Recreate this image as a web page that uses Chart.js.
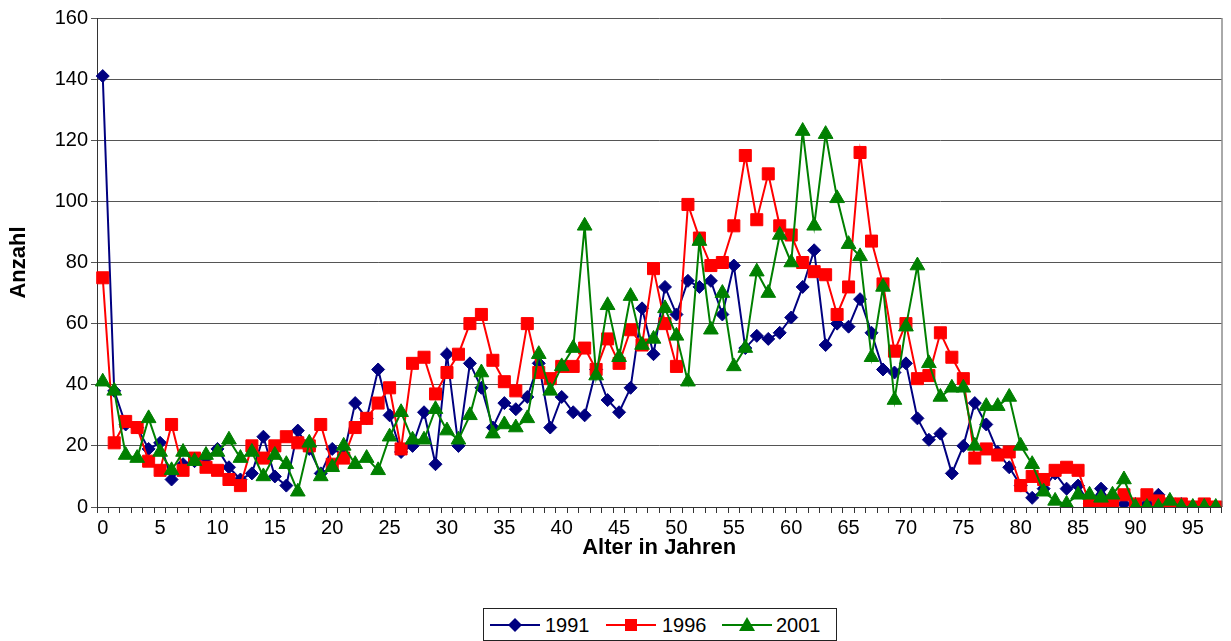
<!DOCTYPE html>
<html>
<head>
<meta charset="utf-8">
<script src="https://cdn.jsdelivr.net/npm/chart.js@4/dist/chart.umd.min.js"></script>
<style>
  body { margin: 0; background: #fff; }
  #wrap { position: relative; width: 1231px; height: 641px; }
  #legend {
    position: absolute; left: 483px; top: 608px; width: 354px; height: 33px;
    box-sizing: border-box; border: 1px solid #222; background: #fff;
    font-family: "Liberation Sans", Arial, sans-serif; font-size: 20px; color: #000;
  }
  .item { position: absolute; top: 3px; height: 26px; }
  .item svg { position: absolute; left: 0; top: 3px; }
  .item span { position: absolute; top: 2px; white-space: nowrap; }
</style>
</head>
<body>
<div id="wrap">
  <canvas id="myChart" width="1231" height="641"></canvas>
  <div id="legend">
    <div class="item" style="left:6px">
      <svg width="50" height="20"><line x1="0" y1="10" x2="50" y2="10" stroke="#000080" stroke-width="2"/><polygon points="25,3 32,10 25,17 18,10" fill="#000080"/></svg>
      <span style="left:55px">1991</span>
    </div>
    <div class="item" style="left:122px">
      <svg width="50" height="20"><line x1="0" y1="10" x2="50" y2="10" stroke="#ff0000" stroke-width="2"/><rect x="19" y="4" width="12" height="12" fill="#ff0000"/></svg>
      <span style="left:56px">1996</span>
    </div>
    <div class="item" style="left:238px">
      <svg width="50" height="20"><line x1="0" y1="10" x2="50" y2="10" stroke="#008000" stroke-width="2"/><polygon points="25,2 33,16 17,16" fill="#008000"/></svg>
      <span style="left:54px">2001</span>
    </div>
  </div>
</div>
<script>
var ages = [];
for (var a = 0; a <= 97; a++) ages.push(String(a));

var werte1991 = [141, 38, 27, 26, 19, 21, 9, 14, 15, 16,
  19, 13, 9, 11, 23, 10, 7, 25, 19, 11,
  19, 17, 34, 29, 45, 30, 18, 20, 31, 14,
  50, 20, 47, 39, 26, 34, 32, 36, 47, 26,
  36, 31, 30, 45, 35, 31, 39, 65, 50, 72,
  63, 74, 72, 74, 63, 79, 52, 56, 55, 57,
  62, 72, 84, 53, 60, 59, 68, 57, 45, 44,
  47, 29, 22, 24, 11, 20, 34, 27, 18, 13,
  7, 3, 6, 11, 6, 7, 1, 6, 1, 1,
  1, 1, 4, 1, 1, 0, 0, 0];

var werte1996 = [75, 21, 28, 26, 15, 12, 27, 12, 16, 13,
  12, 9, 7, 20, 16, 20, 23, 21, 20, 27,
  14, 16, 26, 29, 34, 39, 19, 47, 49, 37,
  44, 50, 60, 63, 48, 41, 38, 60, 44, 42,
  46, 46, 52, 45, 55, 47, 58, 53, 78, 60,
  46, 99, 88, 79, 80, 92, 115, 94, 109, 92,
  89, 80, 77, 76, 63, 72, 116, 87, 73, 51,
  60, 42, 43, 57, 49, 42, 16, 19, 17, 18,
  7, 10, 9, 12, 13, 12, 1, 0, 2, 4,
  1, 4, 2, 1, 1, 0, 1, 0];

var werte2001 = [41, 38, 17, 16, 29, 18, 12, 18, 15, 17,
  18, 22, 16, 18, 10, 17, 14, 5, 21, 10,
  13, 20, 14, 16, 12, 23, 31, 22, 22, 32,
  25, 22, 30, 44, 24, 27, 26, 29, 50, 38,
  46, 52, 92, 43, 66, 49, 69, 53, 55, 65,
  56, 41, 87, 58, 70, 46, 52, 77, 70, 89,
  80, 123, 92, 122, 101, 86, 82, 49, 72, 35,
  59, 79, 47, 36, 39, 39, 20, 33, 33, 36,
  20, 14, 5, 2, 1, 4, 4, 3, 4, 9,
  0, 0, 0, 2, 0, 0, 0, 0];

var schrift = "'Liberation Sans', Arial, sans-serif";

var rahmen = {
  id: 'rahmen',
  afterDraw: function(chart) {
    var c = chart.ctx, ar = chart.chartArea;
    c.save();
    c.strokeStyle = '#555';
    c.lineWidth = 1;
    c.beginPath();
    c.moveTo(ar.right + 0.5, ar.top);
    c.lineTo(ar.right + 0.5, ar.bottom);
    c.stroke();
    c.restore();
  }
};

var ctx = document.getElementById('myChart').getContext('2d');
var myChart = new Chart(ctx, {
  type: 'line',
  data: {
    labels: ages,
    datasets: [{
      label: '1991', data: werte1991, order: 2,
      borderColor: '#000080', backgroundColor: '#000080', borderWidth: 2,
      pointStyle: 'rectRot', pointRadius: 6.5, pointBorderWidth: 1, tension: 0
    }, {
      label: '1996', data: werte1996, order: 1,
      borderColor: '#ff0000', backgroundColor: '#ff0000', borderWidth: 2,
      pointStyle: 'rect', pointRadius: 8.5, pointBorderWidth: 1, tension: 0
    }, {
      label: '2001', data: werte2001, order: 0,
      borderColor: '#008000', backgroundColor: '#008000', borderWidth: 2,
      pointStyle: 'triangle', pointRadius: 8.5, pointBorderWidth: 1, tension: 0
    }]
  },
  options: {
    responsive: false,
    animation: false,
    layout: { padding: { top: 18, right: 6, bottom: 74, left: 0 } },
    plugins: { legend: { display: false }, tooltip: { enabled: false } },
    scales: {
      x: {
        offset: true,
        grid: { display: true, drawOnChartArea: false, offset: true, tickLength: 6, color: '#333' },
        border: { display: true, color: '#333', width: 1 },
        ticks: {
          autoSkip: false, maxRotation: 0, padding: 3, color: '#000',
          font: { family: schrift, size: 20 },
          callback: function(v, i) { return i % 5 === 0 ? this.getLabelForValue(v) : ''; }
        },
        title: {
          display: true, text: 'Alter in Jahren', color: '#000',
          font: { family: schrift, size: 22, weight: 'bold' },
          padding: { top: 0, bottom: 6 }
        },
        afterFit: function(s) { s.height = 60; }
      },
      y: {
        min: 0, max: 160,
        grid: { color: '#555', tickLength: 6 },
        border: { display: true, color: '#333', width: 1 },
        ticks: {
          stepSize: 20, padding: 3, color: '#000',
          font: { family: schrift, size: 20 }
        },
        title: {
          display: true, text: 'Anzahl', color: '#000',
          font: { family: schrift, size: 22, weight: 'bold' },
          padding: { top: 6, bottom: 0 }
        },
        afterFit: function(s) { s.width = 97; }
      }
    }
  },
  plugins: [rahmen]
});
</script>
</body>
</html>
